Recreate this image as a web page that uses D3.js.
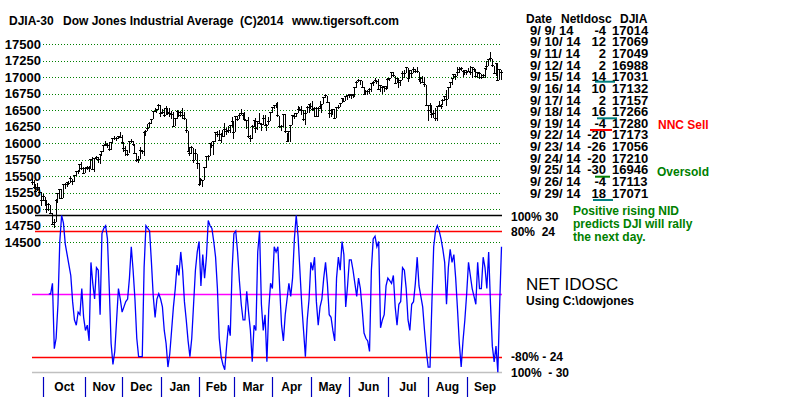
<html>
<head>
<title>DJIA-30 Net IDOSC</title>
<meta charset="utf-8">
<script src="https://d3js.org/d3.v7.min.js"></script>
<style>
  body { margin: 0; background: #ffffff; }
  text { font-family: "Liberation Sans", Arial, sans-serif; font-weight: bold; fill: #000; }
</style>
</head>
<body>
<div id="chart"></div>
<script>

// DJIA daily bars, 9/23/13 .. 9/29/14 (one row per month)
var closes = [
  15401,15334,15273,15328,15258,15129,
  15191,15133,14996,15072,14936,14776,14802,15126,15237,15301,15168,15373,15371,15399,15392,15467,15413,15509,15570,15568,15680,15618,15546,
  15615,15639,15618,15747,15594,15762,15784,15751,15822,15876,15962,15976,15967,15900,16010,16065,16073,16073,16098,16086,
  16008,15915,15889,15821,16020,16026,15973,15844,15740,15755,15885,15876,16168,16179,16221,16294,16357,16479,16478,16505,16577,
  16441,16470,16425,16531,16463,16445,16437,16257,16374,16482,16418,16459,16415,16374,16198,15879,15838,15929,15739,15848,15699,
  15373,15445,15441,15628,15794,15801,15994,15964,16027,16154,16130,16040,16133,16104,16208,16179,16198,16273,16322,
  16168,16396,16360,16422,16453,16418,16351,16341,16108,16065,16247,16337,16223,16331,16303,16276,16368,16268,16264,16323,16458,
  16533,16573,16573,16413,16246,16257,16438,16171,16027,16174,16263,16425,16409,16449,16515,16502,16501,16361,16448,16535,16581,
  16559,16513,16531,16402,16518,16551,16584,16696,16716,16614,16447,16492,16512,16375,16534,16544,16607,16676,16634,16699,16717,
  16743,16722,16738,16837,16924,16944,16946,16843,16735,16776,16781,16808,16907,16921,16947,16938,16818,16868,16846,16852,16827,
  16956,16977,17068,17024,16906,16985,16915,16944,17055,17061,17138,16977,17100,17052,17114,17087,17083,16961,16983,16913,16881,16563,
  16493,16570,16430,16443,16369,16554,16570,16561,16651,16713,16663,16839,16919,16979,17040,17001,17076,17107,17122,17079,17098,
  17068,17078,17069,17138,17111,17014,17069,17049,16988,17031,17132,17157,17266,17280,17173,17056,17210,16946,17113,17071
];
var highs = [
  15455,15440,15375,15390,15330,15255,
  15225,15185,15135,15090,15065,14945,14860,15150,15250,15310,15300,15375,15390,15410,15430,15510,15465,15520,15580,15600,15690,15720,15640,
  15640,15650,15660,15750,15790,15770,15800,15790,15830,15880,15965,16030,16000,16010,16020,16070,16110,16100,16110,16170,
  16120,16010,15950,15900,16030,16060,16030,15990,15850,15800,15940,15900,16170,16200,16290,16320,16360,16480,16530,16520,16590,
  16575,16520,16530,16560,16530,16530,16490,16470,16380,16500,16480,16480,16530,16470,16370,16190,15940,15950,15920,15910,15840,
  15700,15480,15450,15630,15800,15820,16000,16020,16030,16160,16180,16200,16150,16200,16300,16230,16260,16280,16400,
  16320,16410,16410,16450,16510,16450,16470,16350,16400,16130,16270,16340,16380,16340,16450,16310,16420,16420,16290,16390,16470,
  16550,16580,16610,16630,16410,16280,16440,16440,16160,16180,16270,16430,16460,16460,16560,16540,16560,16500,16500,16560,16590,
  16610,16640,16540,16540,16540,16640,16590,16700,16740,16720,16620,16500,16520,16510,16540,16580,16610,16680,16690,16700,16730,
  16750,16740,16750,16850,16940,16970,16950,16940,16850,16800,16800,16830,16910,16940,16980,16950,16970,16880,16870,16860,16870,
  16990,16990,17075,17070,17020,16990,16980,16960,17090,17100,17150,17140,17110,17100,17150,17120,17150,17080,17000,17020,17000,16880,
  16570,16600,16570,16500,16530,16560,16640,16590,16670,16720,16800,16850,16920,16990,17050,17050,17150,17150,17150,17110,17110,
  17110,17140,17160,17140,17140,17110,17080,17070,17050,17050,17140,17240,17270,17380,17280,17170,17220,17200,17120,17100
];
var lows = [
  15365,15300,15255,15270,15215,15050,
  15125,15050,14940,14975,14930,14770,14720,14805,15090,15155,15160,15170,15300,15330,15360,15390,15360,15410,15500,15540,15565,15600,15530,
  15550,15600,15570,15620,15590,15570,15740,15700,15680,15800,15870,15960,15930,15880,15900,16000,16050,16040,16060,16080,
  15990,15860,15800,15800,15850,16000,15950,15830,15720,15700,15760,15830,15800,16110,16180,16230,16290,16360,16470,16460,16500,
  16400,16440,16400,16430,16430,16400,16370,16250,16260,16370,16390,16400,16360,16350,16150,15870,15800,15840,15700,15740,15610,
  15355,15375,15340,15440,15630,15750,15800,15930,15820,16010,16090,16030,16000,16100,16100,16130,16150,16150,16240,
  16060,16170,16340,16360,16420,16350,16340,16220,16080,16020,16070,16240,16150,16200,16290,16180,16280,16260,16180,16270,16330,
  16460,16520,16530,16390,16230,16180,16250,16160,16010,16030,16020,16270,16360,16390,16450,16490,16420,16340,16280,16450,16460,
  16520,16480,16400,16400,16400,16510,16460,16590,16690,16610,16380,16400,16420,16360,16380,16510,16540,16610,16620,16640,16660,
  16690,16670,16680,16700,16840,16920,16880,16830,16730,16740,16730,16750,16780,16860,16920,16890,16810,16780,16740,16780,16800,
  16830,16940,16980,17000,16890,16910,16830,16870,16950,16980,17060,16920,16980,16990,17060,17060,17060,16930,16890,16910,16850,16560,
  16330,16460,16380,16380,16330,16330,16550,16520,16570,16640,16560,16670,16840,16880,16970,16950,17010,17060,17090,17000,17030,
  17030,17070,17030,16990,17080,17000,16990,16970,16970,16990,16990,17100,17160,17250,17150,17050,17020,16940,16950,16950
];

// NET IDOSC, first value belongs to bar 9 (10/4/13)
var oscStart = 9;
var osc = [
  0, 0, 4, -21, -17, -4, 20, 30, 27, 19,
  15, 11, 7, -3, -10, -12, -7, -8, 2, -9,
  -14, -12, -18, 12, 4, -2, 10, 9, -8, 23,
  25, 26, 21, 2, -19, -27, -22, -10, 2, -2,
  -7, -5, -3, -2, 6, 18, 9, -2, -17, -24,
  -24, -24, 10, 26, 25, 24, 12, -1, -9, -2,
  0, -2, -5, -14, -19, -28, -23, -14, -5, 2,
  11, 7, 16, 9, -3, -10, -18, -24, -17, -4,
  9, 16, 20, 3, 15, 6, 14, 28, 26, 25,
  20, 14, 2, -17, -24, -27, -29, -20, -12, -16,
  9, 23, 24, 16, 5, -4, -10, -10, 1, -7,
  -14, -26, -12, -14, 16, 24, -4, -14, -8, -26,
  -6, 4, 2, 18, 16, 18, 2, -12, -18, -8,
  -2, 4, -1, 6, 21, 30, 22, 9, -4, -14,
  -24, -10, -2, 12, 9, 14, -3, -12, -5, -2,
  6, 12, 4, -8, -9, -14, -18, 6, 14, 9,
  20, 15, -5, 3, 13, 13, 9, 4, -1, 6,
  2, -6, -15, -17, -18, -22, 9, 21, 22, 18,
  20, -13, -10, -8, 3, 6, 5, 4, 7, -5,
  -12, -4, -3, 10, 9, 2, -10, -14, -4, -3,
  4, 14, 3, -1, -5, -14, -22, -28, -28, -4,
  18, 24, 26, 24, 21, 17, 12, -4, 10, 17,
  12, 15, 6, -6, -19, -28, -18, -10, 0, 12,
  7, 2, -1, -4, 12, 2, 2, 14, 10, 2,
  16, -4, -20, -26, -20, -30, -4, 18
];

var months = ["Oct", "Nov", "Dec", "Jan", "Feb", "Mar", "Apr", "May", "Jun", "Jul", "Aug", "Sep"];
var monthStart = [6, 29, 49, 70, 91, 110, 131, 152, 173, 194, 216, 237];
var priceTicks = [17500, 17250, 17000, 16750, 16500, 16250, 16000, 15750, 15500, 15250, 15000, 14750, 14500];

var tableDates = ["9/ 9/ 14", "9/ 10/ 14", "9/ 11/ 14", "9/ 12/ 14", "9/ 15/ 14", "9/ 16/ 14", "9/ 17/ 14", "9/ 18/ 14",
                  "9/ 19/ 14", "9/ 22/ 14", "9/ 23/ 14", "9/ 24/ 14", "9/ 25/ 14", "9/ 26/ 14", "9/ 29/ 14"];

var svg = d3.select("#chart")
  .append("svg")
    .attr("width", 800)
    .attr("height", 397);

var n = closes.length;
var x = d3.scaleLinear().domain([0, n - 1]).range([32.3, 501.5]);
var y = d3.scaleLinear().domain([14500, 17500]).range([242.3, 44]);
var yo = d3.scaleLinear().domain([-30, 30]).range([372.3, 215.3]);

// title
var title = [["DJIA-30", 9], ["Dow Jones Industrial Average", 63], ["(C)2014", 240], ["www.tigersoft.com", 292]];
svg.selectAll(".title").data(title).enter().append("text")
  .attr("x", function(d) { return d[0] == "x" ? 0 : d[1]; })
  .attr("y", 25)
  .style("font-size", "12px")
  .text(function(d) { return d[0]; });

// price grid (green dotted) + labels
svg.selectAll(".grid").data(priceTicks).enter().append("line")
  .attr("x1", 43).attr("x2", 502)
  .attr("y1", function(d) { return Math.round(y(d)) + 0.5; })
  .attr("y2", function(d) { return Math.round(y(d)) + 0.5; })
  .attr("stroke", "#008000")
  .attr("stroke-dasharray", "1,2");

svg.selectAll(".plab").data(priceTicks).enter().append("text")
  .attr("x", 41)
  .attr("y", function(d) { return y(d) + 4.6; })
  .attr("text-anchor", "end")
  .style("font-size", "13px")
  .text(function(d) { return d; });

// oscillator reference lines
var levels = [[30, "#000000", 35], [24, "#ff0000", 35], [0, "#ff00ff", 32], [-24, "#ff0000", 32], [-30, "#c0c0c0", 32]];
svg.selectAll(".lvl").data(levels).enter().append("line")
  .attr("x1", function(d) { return d[2]; }).attr("x2", 502)
  .attr("y1", function(d) { return Math.round(yo(d[0])) + 0.5; })
  .attr("y2", function(d) { return Math.round(yo(d[0])) + 0.5; })
  .attr("stroke", function(d) { return d[1]; })
  .attr("stroke-width", 1.3);

// DJIA bars
var bars = svg.append("g").attr("stroke", "#000").attr("shape-rendering", "crispEdges");
bars.selectAll(".hl").data(closes).enter().append("line")
  .attr("x1", function(d, i) { return x(i); })
  .attr("x2", function(d, i) { return x(i); })
  .attr("y1", function(d, i) { return y(highs[i]); })
  .attr("y2", function(d, i) { return y(lows[i]); });
bars.selectAll(".cl").data(closes).enter().append("line")
  .attr("x1", function(d, i) { return x(i) - 1.5; })
  .attr("x2", function(d, i) { return x(i) + 1.5; })
  .attr("y1", function(d) { return y(d); })
  .attr("y2", function(d) { return y(d); });

// NET IDOSC line
var line = d3.line()
  .x(function(d, i) { return x(i + oscStart); })
  .y(function(d) { return yo(d); });
svg.append("path")
  .attr("d", line(osc))
  .attr("fill", "none")
  .attr("stroke", "#0000ff")
  .attr("stroke-width", 1.3);

// month ticks and labels
svg.selectAll(".mt").data(monthStart).enter().append("line")
  .attr("x1", function(d) { return Math.round(x(d)) + 0.5; })
  .attr("x2", function(d) { return Math.round(x(d)) + 0.5; })
  .attr("y1", 377).attr("y2", 397)
  .attr("stroke", "#0000c0")
  .attr("stroke-width", 1.2);

svg.selectAll(".ml").data(months).enter().append("text")
  .attr("x", function(d, i) {
    var next = i < months.length - 1 ? monthStart[i + 1] : n;
    return (x(monthStart[i]) + x(next)) / 2;
  })
  .attr("y", 391)
  .attr("text-anchor", "middle")
  .style("font-size", "12px")
  .text(function(d) { return d; });

// oscillator level labels
var lvlText = [["100% 30", 220.5], ["80%  24", 236], ["-80% - 24", 361], ["100%  - 30", 376.5]];
svg.selectAll(".lt").data(lvlText).enter().append("text")
  .attr("x", 511)
  .attr("y", function(d) { return d[1]; })
  .attr("xml:space", "preserve")
  .style("white-space", "pre")
  .style("font-size", "12px")
  .text(function(d) { return d[0]; });

svg.append("text").attr("x", 526).attr("y", 290)
  .style("font-size", "17px").style("font-weight", "normal")
  .text("NET IDOSC");
svg.append("text").attr("x", 526).attr("y", 305)
  .style("font-size", "12px")
  .text("Using C:\\dowjones");

// table of last 15 days
var header = [["Date", 526], ["NetIdosc", 561], ["DJIA", 620]];
svg.selectAll(".hd").data(header).enter().append("text")
  .attr("x", function(d) { return d[1]; })
  .attr("y", 22.7)
  .style("font-size", "12px")
  .text(function(d) { return d[0]; });

var lastOsc = osc.slice(-15);
var lastDjia = closes.slice(-15);
var rowY = function(i) { return 30 + i * 11.65 + 4.6; };

svg.selectAll(".td").data(tableDates).enter().append("text")
  .attr("x", 530).attr("y", function(d, i) { return rowY(i); })
  .style("font-size", "13px")
  .text(function(d) { return d; });
svg.selectAll(".to").data(lastOsc).enter().append("text")
  .attr("x", 606).attr("y", function(d, i) { return rowY(i); })
  .attr("text-anchor", "end")
  .style("font-size", "13px")
  .text(function(d) { return d; });
svg.selectAll(".tj").data(lastDjia).enter().append("text")
  .attr("x", 612).attr("y", function(d, i) { return rowY(i); })
  .style("font-size", "13px")
  .text(function(d) { return d; });

// marks under table values
var marks = [[595, 615, 81.7, "#008080"], [597, 617, 118.3, "#008080"], [590, 612, 130, "#ff0000"],
             [595, 610, 176.7, "#008000"], [593, 613, 200, "#008080"]];
svg.selectAll(".mk").data(marks).enter().append("line")
  .attr("x1", function(d) { return d[0]; }).attr("x2", function(d) { return d[1]; })
  .attr("y1", function(d) { return d[2]; }).attr("y2", function(d) { return d[2]; })
  .attr("stroke", function(d) { return d[3]; })
  .attr("stroke-width", 2);

svg.append("text").attr("x", 658).attr("y", 128.5)
  .style("font-size", "12px").style("fill", "#ff0000")
  .text("NNC Sell");
svg.append("text").attr("x", 657).attr("y", 176)
  .style("font-size", "12px").style("fill", "#008000")
  .text("Oversold");

var note = ["Positive rising NID", "predicts DJI will rally", "the next day."];
svg.selectAll(".nt").data(note).enter().append("text")
  .attr("x", 573)
  .attr("y", function(d, i) { return 214.5 + i * 13.4; })
  .style("font-size", "12px").style("fill", "#008000")
  .text(function(d) { return d; });

</script>
</body>
</html>
